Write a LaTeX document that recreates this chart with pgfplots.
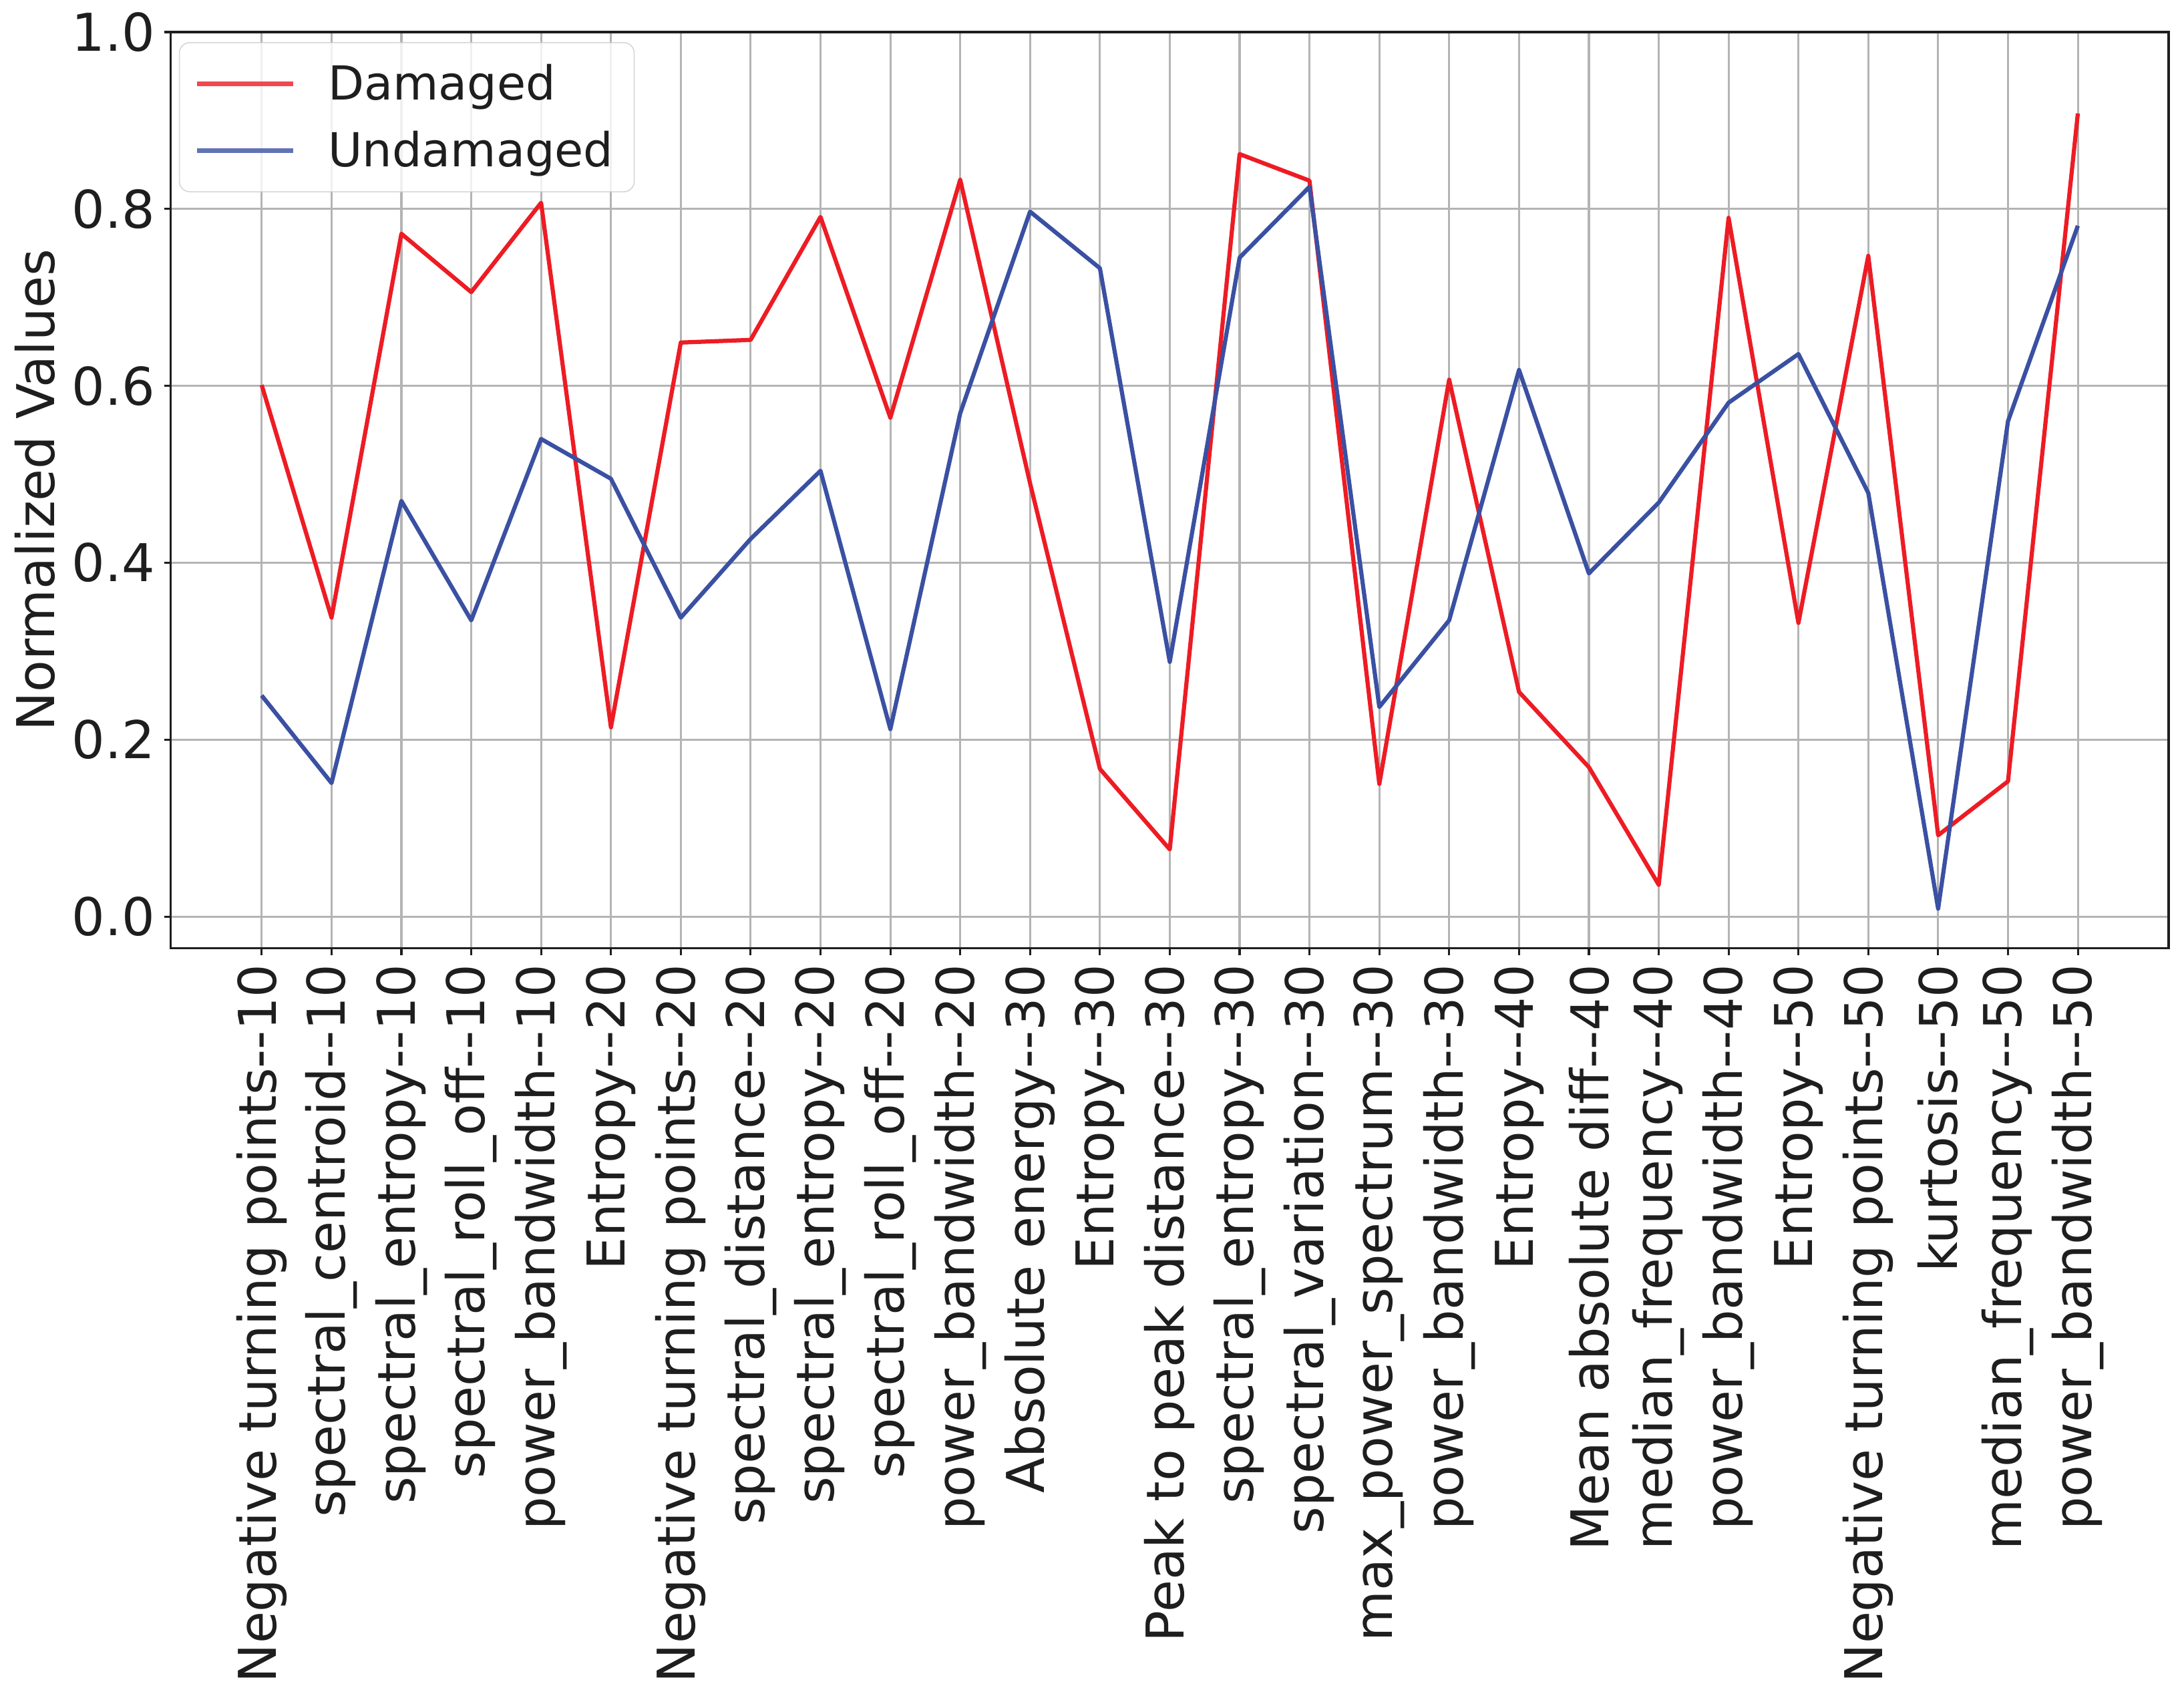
\documentclass[border=0pt]{standalone}
\usepackage{fontspec}
\setmainfont{DejaVu Sans}[Ligatures=TeXOff]
\usepackage{pgfplots}
\usepackage{pgfplotstable}
\pgfplotsset{compat=1.18}
\definecolor{dmg}{RGB}{237,28,36}
\definecolor{udmg}{RGB}{58,80,162}
\definecolor{gridc}{RGB}{180,180,180}
\definecolor{txt}{RGB}{30,30,30}

\pgfplotstableread{
x d u
0 0.601 0.250
1 0.338 0.151
2 0.772 0.470
3 0.706 0.335
4 0.807 0.540
5 0.214 0.495
6 0.649 0.338
7 0.652 0.427
8 0.791 0.504
9 0.564 0.212
10 0.833 0.569
11 0.490 0.797
12 0.167 0.733
13 0.076 0.288
14 0.862 0.745
15 0.832 0.825
16 0.150 0.237
17 0.607 0.335
18 0.254 0.618
19 0.169 0.388
20 0.036 0.468
21 0.790 0.581
22 0.332 0.636
23 0.747 0.479
24 0.092 0.009
25 0.153 0.560
26 0.908 0.781
}\datatable

\begin{document}
\begin{tikzpicture}
\useasboundingbox (0,0) rectangle (838.5pt,651pt);
\begin{axis}[
  at={(65.6pt,286.9pt)}, anchor=south west,
  scale only axis, width=767pt, height=351.8pt,
  xmin=-1.3, xmax=27.3, ymin=-0.036, ymax=1,
  xtick={0,...,26},
  xticklabels={Negative turning points--10, spectral\_centroid--10, spectral\_entropy--10, spectral\_roll\_off--10, power\_bandwidth--10, Entropy--20, Negative turning points--20, spectral\_distance--20, spectral\_entropy--20, spectral\_roll\_off--20, power\_bandwidth--20, Absolute energy--30, Entropy--30, Peak to peak distance--30, spectral\_entropy--30, spectral\_variation--30, max\_power\_spectrum--30, power\_bandwidth--30, Entropy--40, Mean absolute diff--40, median\_frequency--40, power\_bandwidth--40, Entropy--50, Negative turning points--50, kurtosis--50, median\_frequency--50, power\_bandwidth--50},
  ytick={0,0.2,0.4,0.6,0.8,1},
  /pgf/number format/assume math mode=true,
  yticklabel style={/pgf/number format/fixed, /pgf/number format/fixed zerofill, /pgf/number format/precision=1},
  tick label style={font=\fontsize{20}{24}\selectfont, text=txt},
  xticklabel style={rotate=90, anchor=east},
  tick align=outside, major tick length=2.6pt,
  tick style={line width=0.8pt, color=txt},
  axis line style={line width=0.8pt, color=txt},
  xtick pos=bottom, ytick pos=left,
  grid=major,
  major grid style={line width=0.8pt, color=gridc},
  ylabel={Normalized Values},
  ylabel style={at={(axis description cs:-0.068,0.5)}, anchor=center, font=\fontsize{20}{24}\selectfont, text=txt},
  legend cell align=left,
  legend image code/.code={\draw[#1] (0pt,0pt) -- (37pt,0pt);},
  legend style={at={(axis description cs:0.004,0.989)}, anchor=north west,
    draw=gridc!70, rounded corners=4pt, fill=white, fill opacity=0.8, draw opacity=0.8, text opacity=1,
    font=\fontsize{18}{22}\selectfont, text=txt,
    inner xsep=6pt, inner ysep=6.2pt, row sep=6.5pt,
    nodes={inner ysep=2pt},
    /tikz/every odd column/.append style={column sep=10.5pt}},
]
\addplot[color=dmg, line width=1.6pt, line join=round, mark=none] table[x=x, y=d] {\datatable};
\addlegendentry{Damaged}
\addplot[color=udmg, line width=1.6pt, line join=round, mark=none] table[x=x, y=u] {\datatable};
\addlegendentry{Undamaged}
\end{axis}
\end{tikzpicture}
\end{document}
